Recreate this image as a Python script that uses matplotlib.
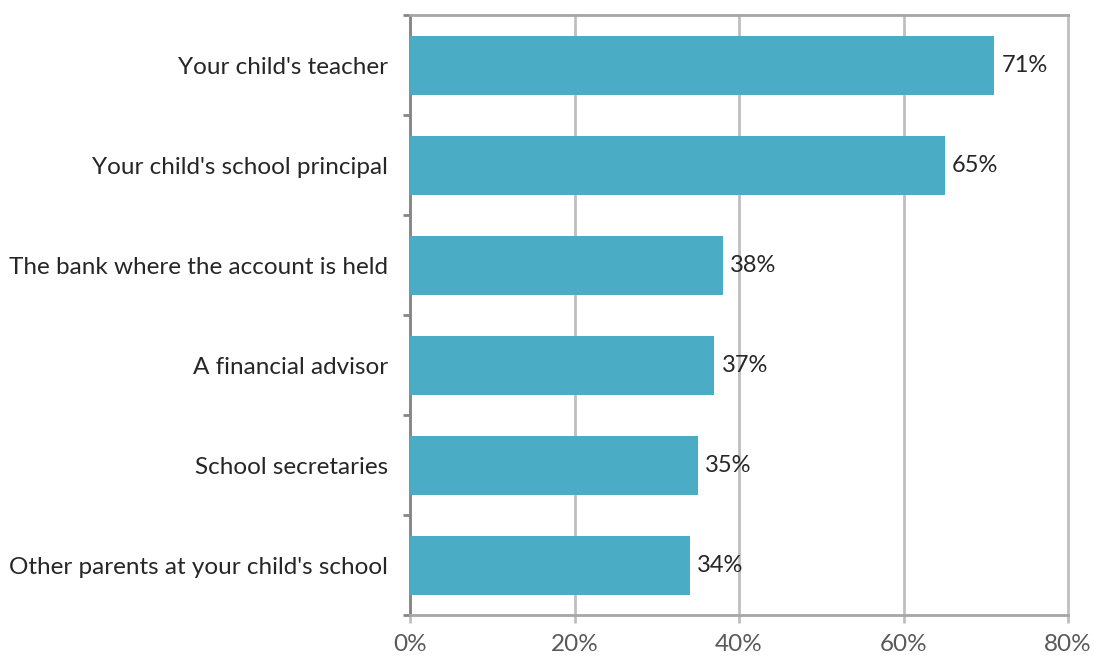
import numpy as np
import matplotlib.pyplot as plt

categories = ["Your child's teacher", "Your child's school principal",
              "The bank where the account is held", "A financial advisor",
              "School secretaries", "Other parents at your child's school"]
values = [71, 65, 38, 37, 35, 34]
xticks = [0, 20, 40, 60, 80]

plt.rcParams['font.family'] = ['Lato', 'DejaVu Sans']

fig = plt.figure(figsize=(10.94, 6.57), dpi=100)
ax = fig.add_axes([410/1094, 1-615/657, (1068-410)/1094, 600/657])

y = np.arange(len(categories))
ax.barh(y, values, height=0.59, color='#4BACC6', zorder=3)
for yi, v in zip(y, values):
    ax.text(v + 0.9, yi, '%d%%' % v, va='center', ha='left', fontsize=17, color='#262626')

ax.set_xlim(0, 80)
ax.set_ylim(len(categories) - 0.5, -0.5)
ax.set_xticks(xticks)
ax.set_xticklabels(['%d%%' % t for t in xticks], fontsize=17.5, color='#595959')
ax.set_yticks(y)
ax.set_yticklabels(categories, fontsize=17.5, color='#262626')
ax.set_yticks(np.arange(-0.5, len(categories)), minor=True)
ax.tick_params(axis='y', which='major', length=0, pad=16)
ax.tick_params(axis='y', which='minor', length=5, width=2, color='#868686', direction='out')
ax.tick_params(axis='x', length=6, width=2, color='#BFBFBF', direction='out', pad=8)
ax.grid(axis='x', color='#BFBFBF', linewidth=2, zorder=0)
for gl in ax.get_xgridlines():
    gl.set_clip_on(False)

ax.spines['left'].set_color('#868686')
ax.spines['left'].set_linewidth(2)
ax.spines['bottom'].set_color('#A6A6A6')
ax.spines['bottom'].set_linewidth(2)
ax.spines['top'].set_color('#A6A6A6')
ax.spines['top'].set_linewidth(2)
ax.spines['right'].set_visible(False)

fig.savefig('out.png', dpi=100)
